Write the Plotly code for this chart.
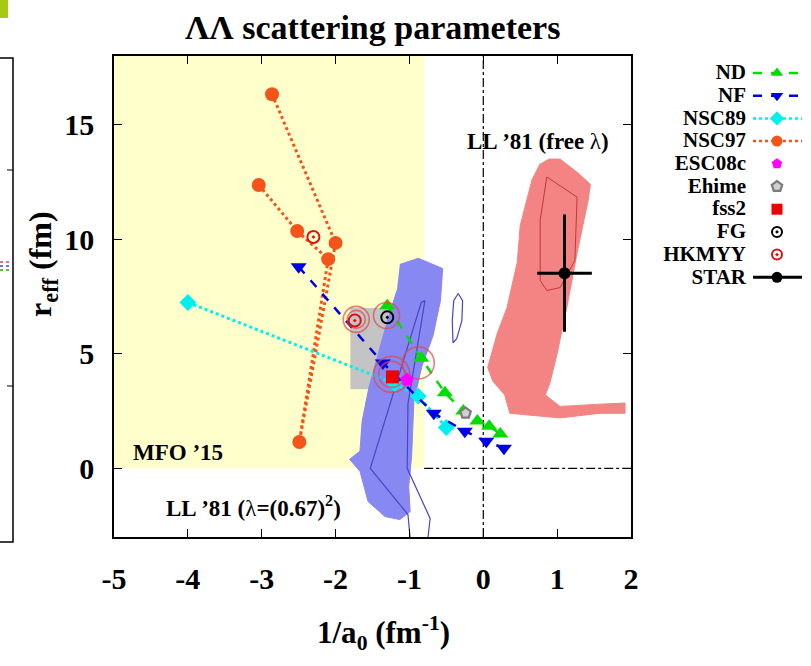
import plotly.graph_objects as go

# ---------------- data ----------------
# model predictions: inverse scattering length 1/a0 (fm^-1) and effective range r_eff (fm)
nd_x = [-1.30, -0.84, -0.52, -0.27, -0.08, 0.08, 0.23]
nd_y = [7.10, 4.80, 3.30, 2.50, 2.06, 1.84, 1.50]

nf_x = [-2.50, -1.36, -0.67, -0.25, 0.04, 0.28]
nf_y = [8.80, 4.60, 2.40, 1.62, 1.18, 0.88]

nsc89_x = [-4.00, -1.20, -0.88, -0.50]
nsc89_y = [7.24, 3.70, 3.15, 1.78]

# NSC97a ... NSC97f
nsc97_x = [-3.04, -2.52, -2.10, -2.49, -2.00, -2.86]
nsc97_y = [12.37, 10.36, 9.13, 1.15, 9.84, 16.33]

esc08c_x, esc08c_y = [-1.03], [3.86]
ehime_x, ehime_y = [-0.24], [2.41]
fss2_x, fss2_y = [-1.23], [3.99]
fg_x, fg_y = [-1.30], [6.59]
hkmyy_x, hkmyy_y = [-1.74, -2.30], [6.45, 10.10]

# rings around the clustered model points
ring_x = [-1.72, -1.72, -1.31, -1.24, -1.24, -0.88]
ring_y = [6.50, 6.50, 6.67, 4.10, 4.10, 4.60]
ring_size = [26, 18, 26, 36, 26, 32]

# STAR result (LL '81, free lambda)
star_x, star_y = [1.10], [8.52]
star_xerr, star_yerr = [0.37], [2.56]

# allowed regions from correlation-function fits
ll81_fixed_x = [-1.13, -0.88, -0.55, -0.58, -0.68, -0.83, -0.94, -0.96, -0.97, -1.01, -0.99,
                -1.13, -1.33, -1.56, -1.67, -1.81, -1.67, -1.64, -1.55, -1.43, -1.31, -1.17]
ll81_fixed_y = [8.90, 9.17, 8.72, 7.32, 5.79, 4.47, 2.94, 1.62, 0.53, -0.79, -1.89,
                -2.24, -2.11, -1.45, -0.13, 0.39, 0.75, 2.06, 3.50, 4.91, 6.30, 7.76]
ll81_fixed_cx = [-0.99, -1.02, -1.53, -0.84, -0.79, -1.02, -1.03, -0.72, -0.75]
ll81_fixed_cy = [-3.07, -2.02, 0.00, 7.24, 7.32, 2.81, 0.00, -2.19, -3.07]
ll81_small_cx = [-0.34, -0.28, -0.29, -0.36, -0.41, -0.42, -0.40, -0.34]
ll81_small_cy = [7.63, 7.32, 6.45, 5.66, 5.48, 6.45, 7.32, 7.63]

ll81_free_x = [0.77, 0.66, 0.50, 0.46, 0.32, 0.19, 0.06, 0.13, 0.29, 0.36, 1.04, 1.58, 1.92,
               1.92, 1.58, 1.04, 0.84, 0.90, 1.00, 1.13, 1.27, 1.42, 1.45, 1.28, 1.04, 0.88]
ll81_free_y = [13.3, 12.6, 10.6, 9.0, 7.0, 5.9, 4.4, 3.8, 3.2, 2.4, 2.2, 2.4, 2.4,
               2.85, 2.8, 2.7, 3.2, 3.7, 5.0, 7.0, 9.4, 11.7, 12.4, 12.9, 13.5, 13.5]
ll81_free_cx = [0.86, 1.27, 1.24, 1.04, 0.86, 0.77, 0.77, 0.86]
ll81_free_cy = [12.72, 11.84, 9.08, 7.89, 7.76, 8.20, 10.83, 12.72]

# MFO '15 region and reference lines
mfo_box = dict(x0=-5.0, x1=-0.8, y0=0.0, y1=18.0)
grey_box = dict(x0=-1.80, x1=-1.20, y0=3.45, y1=7.00)

x_ticks = [-5, -4, -3, -2, -1, 0, 1, 2]
y_ticks = [0, 5, 10, 15]

# legend entries: name, colour, dash, symbol
legend_rows = [
    ("ND", "#00dd00", "dash", "triangle-up"),
    ("NF", "#0000e6", "dash", "triangle-down"),
    ("NSC89", "#00f0f0", "dot", "diamond"),
    ("NSC97", "#f4541a", "dot", "circle"),
    ("ESC08c", "#ff00ff", None, "pentagon"),
    ("Ehime", "#7a7a7a", None, "pentagon"),
    ("fss2", "#ee0000", None, "square"),
    ("FG", "#000000", None, "circle-open-dot"),
    ("HKMYY", "#e01010", None, "circle-open-dot"),
    ("STAR", "#000000", "solid", "circle"),
]

W, H = 811, 666
L, R, T, B = 114, 631, 56, 537
SERIF = "Liberation Serif"

fig = go.Figure()

# fit regions
fig.add_trace(go.Scatter(x=ll81_fixed_x, y=ll81_fixed_y, fill="toself", mode="lines",
                         fillcolor="#8888f2", line=dict(color="#8888f2", width=1)))
fig.add_trace(go.Scatter(x=ll81_fixed_cx, y=ll81_fixed_cy, mode="lines",
                         line=dict(color="#4646c8", width=1.2)))
fig.add_trace(go.Scatter(x=ll81_small_cx, y=ll81_small_cy, mode="lines",
                         line=dict(color="#4646c8", width=1.2)))
fig.add_trace(go.Scatter(x=ll81_free_x, y=ll81_free_y, fill="toself", mode="lines",
                         fillcolor="#f48484", line=dict(color="#f48484", width=1)))
fig.add_trace(go.Scatter(x=ll81_free_cx, y=ll81_free_cy, mode="lines",
                         line=dict(color="#c03838", width=1)))

styles = {r[0]: r for r in legend_rows}


def marker_style(name, size):
    _, col, dash, sym = styles[name]
    if name == "Ehime":
        return dict(symbol=sym, size=size, color="#d0d0d0", line=dict(color=col, width=2.2))
    mk = dict(symbol=sym, size=size, color=col)
    if sym.endswith("open-dot"):
        mk["line"] = dict(color=col, width=2)
    return mk


def series(name, xs, ys, size, lw=2.5):
    _, col, dash, sym = styles[name]
    mode = "lines+markers" if dash else "markers"
    fig.add_trace(go.Scatter(x=xs, y=ys, mode=mode, marker=marker_style(name, size),
                             line=dict(color=col, width=lw, dash=dash or "solid")))


series("NSC97", nsc97_x, nsc97_y, 14, lw=3)
series("NSC89", nsc89_x, nsc89_y, 13, lw=3)
series("NF", nf_x, nf_y, 14)
series("ND", nd_x, nd_y, 14)

ring_col = "#dc4a4a"
fig.add_trace(go.Scatter(x=ring_x, y=ring_y, mode="markers",
                         marker=dict(symbol="circle-open", size=ring_size, color=ring_col,
                                     line=dict(color=ring_col, width=1.6))))
series("fss2", fss2_x, fss2_y, 13)
series("ESC08c", esc08c_x, esc08c_y, 14)
series("Ehime", ehime_x, ehime_y, 11)
series("FG", fg_x, fg_y, 12)
series("HKMYY", hkmyy_x, hkmyy_y, 12)

fig.add_trace(go.Scatter(
    x=star_x, y=star_y, mode="markers",
    marker=dict(symbol="circle", size=12, color="black"),
    error_x=dict(type="data", array=star_xerr, color="black", thickness=3, width=0),
    error_y=dict(type="data", array=star_yerr, color="black", thickness=3, width=0)))

# legend drawn in a pixel-space overlay (x2/y2 span the whole canvas)
leg_y = [73 + i * 22.7 for i in range(len(legend_rows))]
for (name, col, dash, sym), yy in zip(legend_rows, leg_y):
    if dash:
        fig.add_trace(go.Scatter(x=[753, 802], y=[yy, yy], mode="lines", xaxis="x2", yaxis="y2",
                                 line=dict(color=col, width=3 if name == "STAR" else 2.5, dash=dash)))
    fig.add_trace(go.Scatter(x=[777], y=[yy], mode="markers", xaxis="x2", yaxis="y2",
                             marker=marker_style(name, 11 if sym != "circle-open-dot" else 10)))
fig.add_trace(go.Scatter(x=[746] * len(legend_rows), y=[v + 1 for v in leg_y], mode="text",
                         xaxis="x2", yaxis="y2", text=[f"<b>{r[0]}</b>" for r in legend_rows],
                         textposition="middle left",
                         textfont=dict(family=SERIF, size=21, color="black")))

# stub of the neighbouring panel at the left edge
stub_ticks_y = [170, 386]
stub_marks = [("#e070a0", 262), ("#7070e0", 266), ("#50c050", 270)]
fig.add_trace(go.Scatter(x=[0, 13, 13, 0], y=[58, 58, 542, 542], mode="lines", xaxis="x2", yaxis="y2",
                         line=dict(color="black", width=1.5)))
for ty in stub_ticks_y:
    fig.add_trace(go.Scatter(x=[7, 13], y=[ty, ty], mode="lines", xaxis="x2", yaxis="y2",
                             line=dict(color="black", width=1)))
for c, ty in stub_marks:
    fig.add_trace(go.Scatter(x=[0, 10], y=[ty, ty], mode="lines", xaxis="x2", yaxis="y2",
                             line=dict(color=c, width=2, dash="dot")))

shapes = [
    dict(type="rect", xref="x", yref="y", layer="below", line_width=0, fillcolor="#ffffcc", **mfo_box),
    dict(type="rect", xref="x", yref="y", layer="below", line_width=0, fillcolor="#c4c4c4", **grey_box),
    dict(type="line", xref="x", yref="y", x0=0, x1=0, y0=-3, y1=18, layer="below",
         line=dict(color="black", width=1.2, dash="dashdot")),
    dict(type="line", xref="x", yref="y", x0=-0.8, x1=2, y0=0, y1=0, layer="below",
         line=dict(color="black", width=1.2, dash="dashdot")),
    dict(type="rect", xref="paper", yref="paper", x0=0, x1=8 / W, y0=1 - 18 / H, y1=1,
         line_width=0, fillcolor="#a8c814"),
]
fig.update_layout(shapes=shapes)

texts = [
    ("<b>ΛΛ scattering parameters</b>", 372, 27, 34, 0),
    ("<b>r<sub>eff</sub> (fm)</b>", 43, 264, 32, -90),
    ("<b>1/a<sub>0</sub> (fm<sup>-1</sup>)</b>", 383, 633, 31, 0),
    ("<b>LL ’81 (free </b>λ<b>)</b>", 538, 141, 23, 0),
    ("<b>MFO ’15</b>", 178, 452, 23, 0),
    ("<b>LL ’81 (</b>λ<b>=(0.67)<sup>2</sup>)</b>", 253, 506, 23, 0),
]
for txt, px, py, sz, ang in texts:
    fig.add_annotation(x=px / W, y=1 - py / H, xref="paper", yref="paper", text=txt,
                       showarrow=False, textangle=ang, xanchor="center", yanchor="middle",
                       font=dict(family=SERIF, size=sz, color="black"))

axis_font = dict(family=SERIF, size=30, color="black", weight="bold")
fig.update_layout(
    width=W, height=H, margin=dict(l=0, r=0, t=0, b=0, autoexpand=False),
    paper_bgcolor="white", plot_bgcolor="rgba(0,0,0,0)", showlegend=False,
    xaxis=dict(domain=[L / W, R / W], range=[-5, 2], tickvals=x_ticks, automargin=False,
               ticktext=[str(v) for v in x_ticks], ticks="inside", ticklen=8, tickwidth=1,
               tickcolor="black", showline=True, linecolor="black", linewidth=1.5, mirror="ticks",
               showgrid=False, zeroline=False, tickfont=axis_font, ticklabelstandoff=14),
    yaxis=dict(domain=[1 - B / H, 1 - T / H], range=[-3, 18], tickvals=y_ticks, automargin=False,
               ticktext=[str(v) for v in y_ticks], ticks="inside", ticklen=8, tickwidth=1,
               tickcolor="black", showline=True, linecolor="black", linewidth=1.5, mirror="ticks",
               showgrid=False, zeroline=False, tickfont=axis_font, ticklabelstandoff=12),
    xaxis2=dict(domain=[0, 1], range=[0, W], visible=False, anchor="y2", automargin=False),
    yaxis2=dict(domain=[0, 1], range=[H, 0], visible=False, anchor="x2", automargin=False),
)

fig.write_html("out.html")
